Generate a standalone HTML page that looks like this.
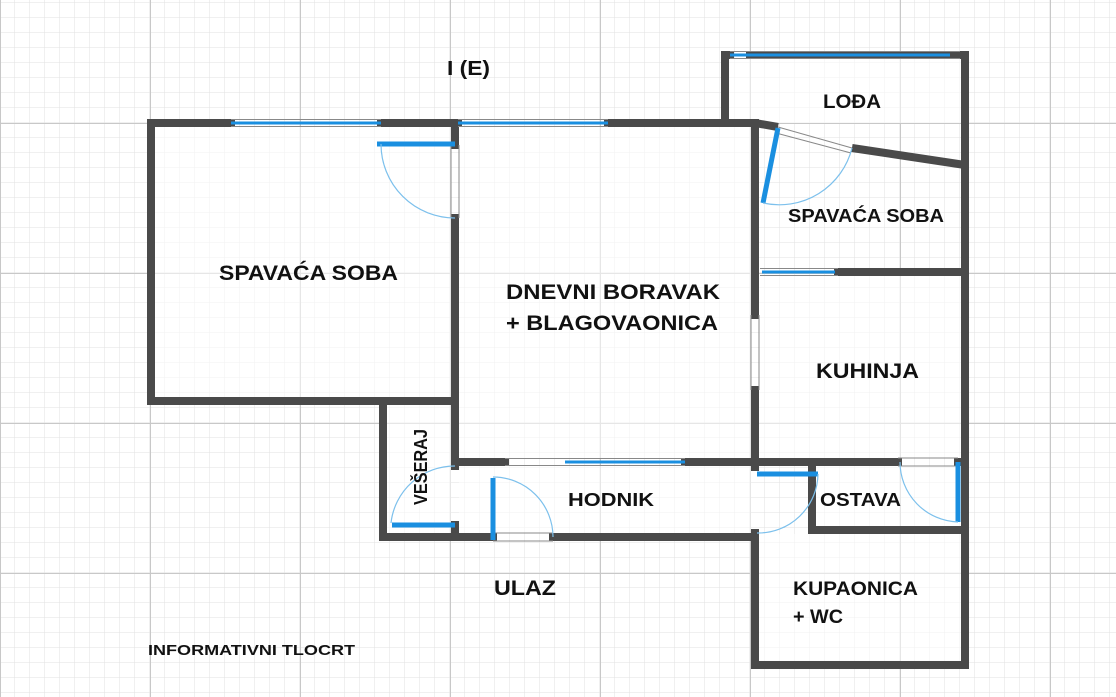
<!DOCTYPE html>
<html><head><meta charset="utf-8"><style>
html,body{margin:0;padding:0;background:#fff;}
svg{display:block;}
text{font-family:"Liberation Sans","DejaVu Sans",sans-serif;font-weight:bold;fill:#111;}
</style></head><body>
<svg width="1116" height="697" viewBox="0 0 1116 697" xmlns="http://www.w3.org/2000/svg">
<defs>
<pattern id="minor" width="15" height="15" patternUnits="userSpaceOnUse" x="0" y="3">
<path d="M15 0V15M0 15H15" stroke="#e2e2e2" stroke-width="1" fill="none"/></pattern>
<pattern id="major" width="150" height="150" patternUnits="userSpaceOnUse" x="0" y="123">
<path d="M0.5 0V150M0 0.5H150" stroke="#c8c8c8" stroke-width="1" fill="none"/></pattern>
</defs>
<rect width="1116" height="697" fill="url(#minor)"/>
<rect width="1116" height="697" fill="url(#major)"/>
<g fill="#fff" opacity="0.55">
<rect x="154" y="127" width="297" height="270"/>
<rect x="459" y="127" width="292" height="331"/>
<rect x="759" y="276" width="202" height="182"/>
<rect x="459" y="466" width="292" height="67"/>
<rect x="387" y="405" width="64" height="128"/>
<rect x="816" y="466" width="145" height="60"/>
<rect x="759" y="534" width="202" height="127"/>
<rect x="729" y="59" width="232" height="64"/>
</g>
<g stroke="#4a4a4a" stroke-width="8" fill="none" stroke-linecap="square">
<path d="M151 123H231M381 123H458M608 123H755"/>
<path d="M151 123V401H455"/>
<path d="M455 123V145M455 218V466"/>
<path d="M383 401V537H455M455 525V537"/>
<path d="M455 462H505M685 462H755"/>
<path d="M455 537H493M553 537H755"/>
<path d="M755 123V315M755 390V467M755 533V665"/>
<path d="M725 123V55H730M750 55H965V665"/>
<path d="M755 123L778 127M852 148L965 165" stroke-linecap="butt"/>
<path d="M838 272H965"/>
<path d="M755 462H898M958 462H965"/>
<path d="M812 462V530H965"/>
<path d="M755 665H965"/>
</g>
<g stroke="#1a8fe0" stroke-width="3">
<path d="M231 123H381M458 123H608M730 55H750M750 55H950"/>
<path d="M565 462H685M762 272H835"/>
</g>
<g stroke="#888" stroke-width="1" fill="none">
<path d="M231 119.5H381M231 126.5H381M458 119.5H608M458 126.5H608M730 51.5H960M730 58.5H960"/>
<path d="M505 458.5H685M505 465.5H685M760 268.5H838M760 275.5H838"/>
<path d="M778 127L852 148M776 133L851 153"/>
<path d="M451 145V218M459 145V218M751 315V390M759 315V390"/>
<path d="M493 533H553M493 541H553M898 458H958M898 466H958"/>
</g>
<g stroke="#1a8fe0" stroke-width="5" fill="none">
<path d="M377 144H455"/>
<path d="M493 478V540"/>
<path d="M392 525H455"/>
<path d="M757 474H818"/>
<path d="M958 462V522"/>
<path d="M778 128L763 203"/>
</g>
<g stroke="#7cc0ec" stroke-width="1.2" fill="none">
<path d="M381 144A74 74 0 0 0 455 218"/>
<path d="M493 477A60 60 0 0 1 553 537"/>
<path d="M391 523A64 64 0 0 1 455 466"/>
<path d="M818 474A60 60 0 0 1 757 533"/>
<path d="M900 462A60 60 0 0 0 958 522"/>
<path d="M763 203A75 75 0 0 0 852 148"/>
</g>
<g lengthAdjust="spacingAndGlyphs">
<text x="447" y="75" font-size="20" textLength="43" lengthAdjust="spacingAndGlyphs">I (E)</text>
<text x="823" y="108" font-size="19" textLength="58" lengthAdjust="spacingAndGlyphs">LOĐA</text>
<text x="788" y="222" font-size="18" textLength="156" lengthAdjust="spacingAndGlyphs">SPAVAĆA SOBA</text>
<text x="219" y="280" font-size="21" textLength="179" lengthAdjust="spacingAndGlyphs">SPAVAĆA SOBA</text>
<text x="506" y="299" font-size="21" textLength="214" lengthAdjust="spacingAndGlyphs">DNEVNI BORAVAK</text>
<text x="506" y="330" font-size="21" textLength="212" lengthAdjust="spacingAndGlyphs">+ BLAGOVAONICA</text>
<text x="816" y="378" font-size="21" textLength="103" lengthAdjust="spacingAndGlyphs">KUHINJA</text>
<text x="568" y="506" font-size="18" textLength="86" lengthAdjust="spacingAndGlyphs">HODNIK</text>
<text x="820" y="506" font-size="18" textLength="81" lengthAdjust="spacingAndGlyphs">OSTAVA</text>
<text x="427" y="505" font-size="18" textLength="76" lengthAdjust="spacingAndGlyphs" transform="rotate(-90 427 505)">VEŠERAJ</text>
<text x="494" y="595" font-size="21" textLength="62" lengthAdjust="spacingAndGlyphs">ULAZ</text>
<text x="793" y="595" font-size="19" textLength="125" lengthAdjust="spacingAndGlyphs">KUPAONICA</text>
<text x="793" y="623" font-size="19" textLength="50" lengthAdjust="spacingAndGlyphs">+ WC</text>
<text x="148" y="655" font-size="15" textLength="207" lengthAdjust="spacingAndGlyphs">INFORMATIVNI TLOCRT</text>
</g>
</svg>
</body></html>
